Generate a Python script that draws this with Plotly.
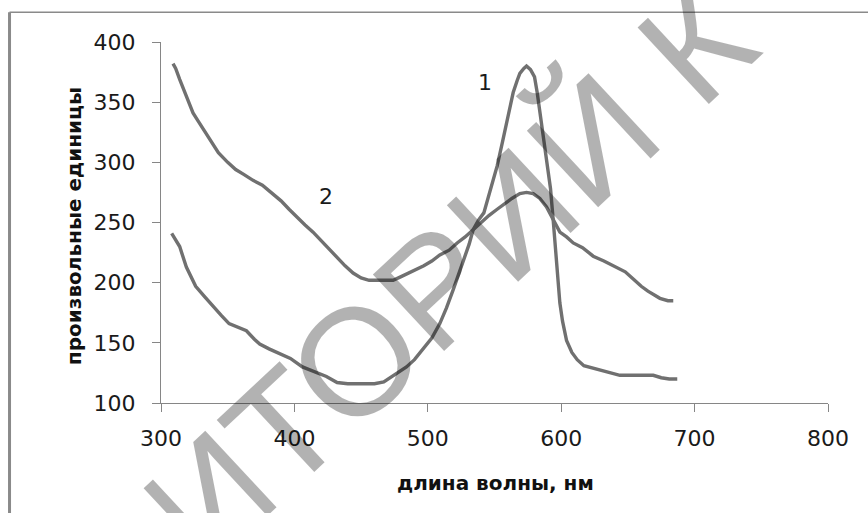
import plotly.graph_objects as go

# Curve 1 (peak near 575 nm)
x1 = [308, 314, 319, 326, 333, 339, 345, 351, 358, 364, 370, 374, 381, 389, 397, 406, 415, 424, 432,
      440, 450, 460, 467, 475, 484, 490, 496, 503, 509, 514, 519, 523, 527, 531, 534, 538, 542, 547,
      552, 556, 559, 562, 564, 567, 569, 572, 574, 577, 580, 582, 583.5, 586, 588, 590, 592, 594, 596,
      598, 599, 601, 604, 608, 612, 617, 624, 631, 638, 644, 650, 660, 669, 675, 681, 687]
y1 = [241, 230, 213, 197, 188, 180, 173, 166, 163, 160, 153, 149, 145, 141, 137, 130, 126, 122, 117,
      116, 116, 116, 117.5, 123, 130, 136, 144, 154, 166, 179, 194, 207, 219, 232, 244, 252, 258, 277,
      297, 317, 333, 348, 358, 368, 374, 378, 380, 377, 371, 358, 346, 325, 310, 293, 278, 252, 225,
      200, 183, 168, 152, 142, 136, 131, 129, 127, 125, 123, 123, 123, 123, 121, 120, 120]

# Curve 2
x2 = [309, 311, 314, 317, 319, 322, 324, 328, 332, 337, 343, 350, 356, 362, 369, 376, 384, 390, 396,
      402, 408, 414, 420, 426, 432, 438, 444, 450, 456, 462, 468, 474, 480, 486, 492, 497, 503, 509,
      516, 522, 528, 534, 540, 546, 552, 558, 563, 569, 574, 579, 584, 589, 594, 599, 604, 609, 616,
      624, 632, 641, 648, 654, 660, 665, 670, 674, 680, 684]
y2 = [382, 378, 369, 361, 355, 347, 341, 334, 327, 318, 308, 300, 294, 290, 285, 281, 274, 268, 261,
      254, 248, 242, 235, 228, 220, 214, 208, 204, 202, 202, 202, 202, 205, 208, 211, 214, 218, 223,
      227, 233, 238, 244, 250, 256, 261, 266, 270, 274, 275, 274, 270, 263, 252, 242, 238, 233, 229,
      222, 218, 213, 209, 203, 197, 193, 190, 187, 185, 185]

curve_labels = ["1", "2"]
label_x = [543, 423.5]
label_y = [366, 271.5]

x_title = "длина волны, нм"
y_title = "произвольные единицы"
watermark = "РЕПОЗИТОРИЙ К"

line_color = "#707070"
axis_color = "#868686"

fig = go.Figure()
fig.add_trace(go.Scatter(x=x1, y=y1, mode="lines", line=dict(color=line_color, width=3.4),
                         showlegend=False, hoverinfo="skip"))
fig.add_trace(go.Scatter(x=x2, y=y2, mode="lines", line=dict(color=line_color, width=3.4),
                         showlegend=False, hoverinfo="skip"))

tick_font = dict(family="DejaVu Sans", size=22, color="#1a1a1a")

fig.update_layout(
    width=868, height=513,
    margin=dict(l=161, r=40, t=42, b=110),
    paper_bgcolor="white", plot_bgcolor="white",
    xaxis=dict(range=[300, 800], dtick=100, tick0=300, showgrid=False, zeroline=False,
               showline=True, linecolor=axis_color, linewidth=1,
               ticks="outside", ticklen=8, tickcolor=axis_color, tickwidth=1,
               tickfont=tick_font, ticklabelstandoff=8),
    yaxis=dict(range=[100, 400], dtick=50, tick0=100, showgrid=False, zeroline=False,
               showline=True, linecolor=axis_color, linewidth=1,
               ticks="outside", ticklen=8, tickcolor=axis_color, tickwidth=1,
               tickfont=tick_font, ticklabelstandoff=12),
)

for t, lx, ly in zip(curve_labels, label_x, label_y):
    fig.add_annotation(x=lx, y=ly, text=t, showarrow=False,
                       font=dict(family="DejaVu Sans", size=22, color="#1a1a1a"))

fig.add_annotation(xref="paper", yref="paper", x=0.502, y=-0.2216, text="<b>" + x_title + "</b>",
                   showarrow=False, font=dict(family="DejaVu Sans", size=20, color="#111111"),
                   xanchor="center", yanchor="middle")
fig.add_annotation(xref="paper", yref="paper", x=-0.1304, y=0.49, text="<b>" + y_title + "</b>",
                   showarrow=False, textangle=-90,
                   font=dict(family="DejaVu Sans", size=20, color="#111111"),
                   xanchor="center", yanchor="middle")

# outer frame (partially visible)
fig.add_shape(type="line", xref="paper", yref="paper", x0=-0.2271, x1=1.07, y0=1.0823, y1=1.0823,
              line=dict(color="#8a8a8a", width=1.5))
fig.add_shape(type="line", xref="paper", yref="paper", x0=-0.2271, x1=-0.2271, y0=1.0823, y1=-0.32,
              line=dict(color="#8a8a8a", width=3))

# watermark
fig.add_annotation(xref="paper", yref="paper", x=0.1454, y=-0.1357, text=watermark, showarrow=False,
                   textangle=-43, xanchor="center", yanchor="middle",
                   font=dict(family="Liberation Sans", size=152, color="rgba(0,0,0,0.3)"))

fig.write_html("out.html")
